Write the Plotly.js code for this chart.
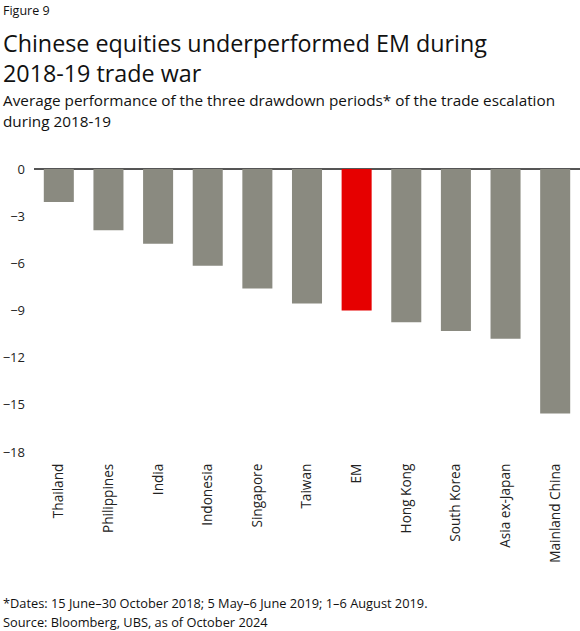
<!DOCTYPE html>
<html>
<head>
<meta charset="utf-8">
<script src="https://cdn.plot.ly/plotly-3.0.1.min.js"></script>
<style>
  body { margin: 0; background: #fff; }
  #chart { width: 580px; height: 631px; }
</style>
</head>
<body>
<div id="chart"></div>
<script>
// markets, sorted as in the figure
var markets = ["Thailand", "Philippines", "India", "Indonesia", "Singapore", "Taiwan",
  "EM", "Hong Kong", "South Korea", "Asia ex-Japan", "Mainland China"];
// average performance over the three drawdown periods, %
var performance = [-2.1, -3.9, -4.75, -6.15, -7.6, -8.55, -9.0, -9.75, -10.3, -10.8, -15.55];
var yTicks = [0, -3, -6, -9, -12, -15, -18];

var GREY = "#8a8a80";
var RED = "#e60000";
var FONT = "Open Sans, Noto Sans, sans-serif";

var barColors = markets.map(function (m) {
  return m === "EM" ? RED : GREY;
});

var trace = {
  type: "bar",
  x: markets,
  y: performance,
  marker: { color: barColors },
  hoverinfo: "x+y",
};

// plot area runs from y=169px (0) to y=452px (-18)
var TOP = 169, BOTTOM = 452;
function py(p) {
  return (BOTTOM - p) / (BOTTOM - TOP);
}
function note(text, y, size) {
  return {
    text: text, xref: "paper", yref: "paper",
    x: -33 / 546, y: py(y), xanchor: "left", yanchor: "middle",
    showarrow: false, align: "left",
    font: { family: FONT, size: size, color: "#111" },
  };
}

var layout = {
  width: 580,
  height: 631,
  margin: { t: TOP, b: 631 - BOTTOM, l: 34, r: 0, pad: 0 },
  paper_bgcolor: "#ffffff",
  plot_bgcolor: "#ffffff",
  showlegend: false,
  bargap: 0.395,
  font: { family: FONT, size: 13, color: "#222" },
  xaxis: {
    type: "category",
    tickangle: -90,
    showgrid: false,
    showline: false,
    ticks: "",
    ticklabelstandoff: 8,
    tickfont: { size: 13.6, color: "#222" },
  },
  yaxis: {
    range: [-18, 0],
    tickvals: yTicks,
    showgrid: false,
    zeroline: true,
    zerolinecolor: "#555",
    zerolinewidth: 1.5,
    showline: false,
    ticks: "",
    ticklabelstandoff: 8,
    tickfont: { size: 13, color: "#222" },
  },
  annotations: [
    note("Figure 9", 10, 12.5),
    note("Chinese equities underperformed EM during", 43, 23.3),
    note("2018-19 trade war", 73, 23.3),
    note("Average performance of the three drawdown periods* of the trade escalation", 100, 15.3),
    note("during 2018-19", 121, 15.3),
    note("*Dates: 15 June\u201330 October 2018; 5 May\u20136 June 2019; 1\u20136 August 2019.", 603, 12.8),
    note("Source: Bloomberg, UBS, as of October 2024", 622, 12.8),
  ],
};

Plotly.newPlot("chart", [trace], layout, { displayModeBar: false, staticPlot: true });
</script>
</body>
</html>
